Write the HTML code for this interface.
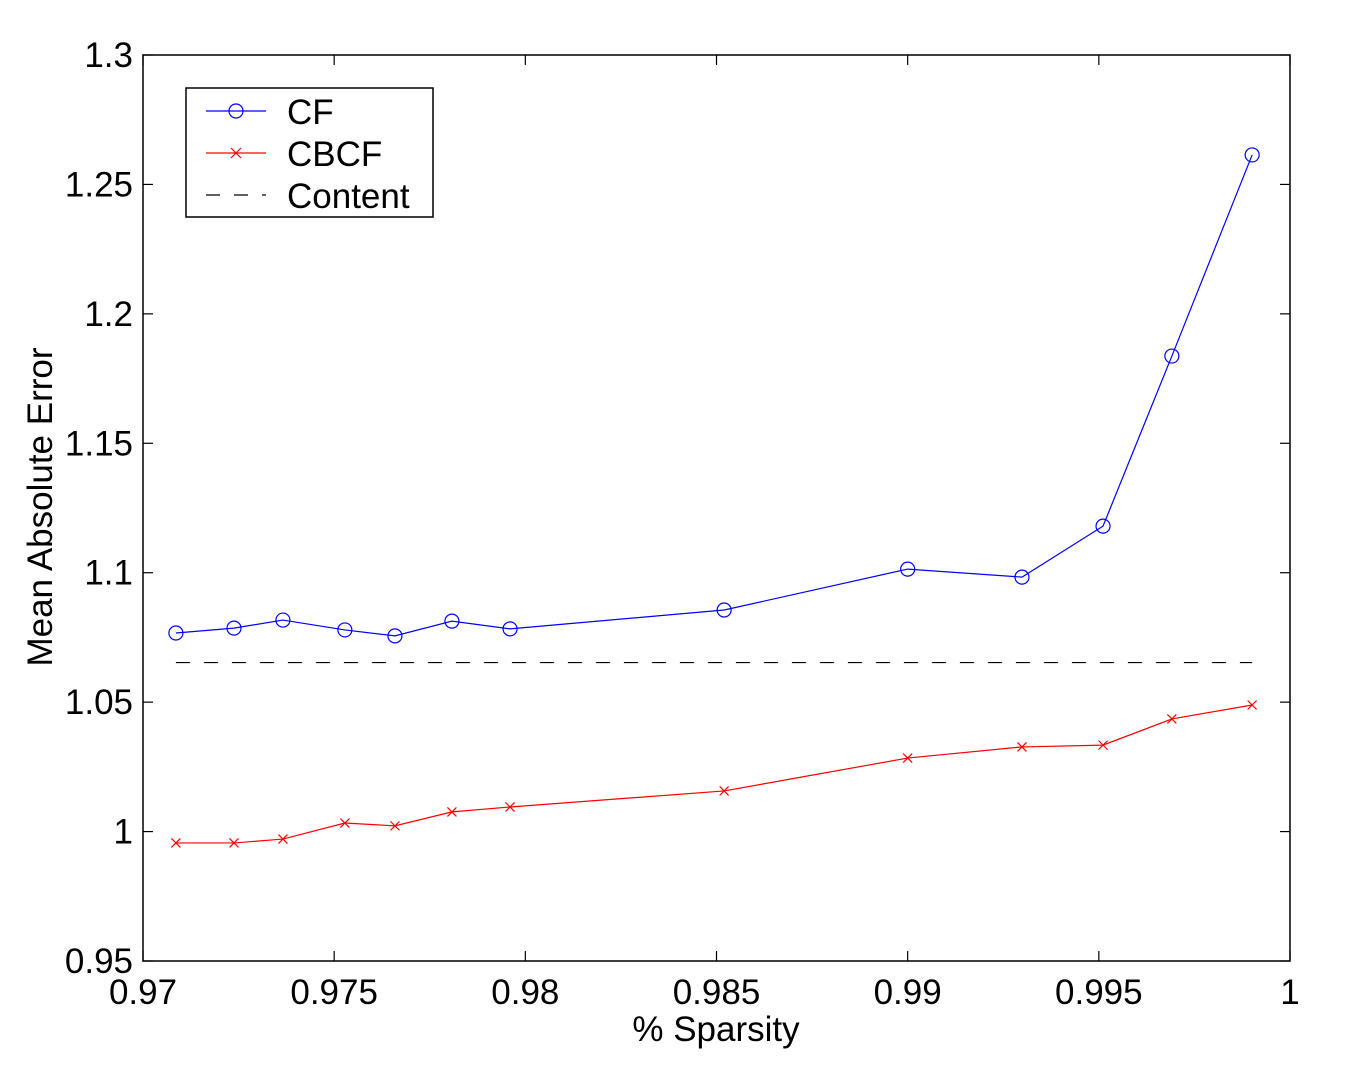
<!DOCTYPE html>
<html><head><meta charset="utf-8"><style>
html,body{margin:0;padding:0;background:#fff;}
svg{display:block;font-family:"Liberation Sans",sans-serif;}
</style></head><body>
<svg id="chart" width="1358" height="1074" xmlns="http://www.w3.org/2000/svg">
<rect x="143" y="55" width="1147" height="906" fill="#fff" stroke="#000" stroke-width="1.5"/>
<g id="ticks"></g>
<g id="series"></g>
<text x="716" y="1041" font-size="35" text-anchor="middle">% Sparsity</text>
<text transform="translate(52,507) rotate(-90)" font-size="35" text-anchor="middle">Mean Absolute Error</text>
<g>
<rect x="186" y="88" width="247" height="129" fill="#fff" stroke="#000" stroke-width="1.5"/>
<line x1="206" y1="111" x2="266" y2="111" stroke="#0000ff" stroke-width="1.2"/>
<circle cx="236" cy="111" r="7" fill="none" stroke="#0000ff" stroke-width="1.2"/>
<text x="287" y="124" font-size="35">CF</text>
<line x1="206" y1="153" x2="266" y2="153" stroke="#ff0000" stroke-width="1.2"/>
<path d="M231,148 L241,158 M241,148 L231,158" stroke="#ff0000" stroke-width="1.2"/>
<text x="287" y="166" font-size="35">CBCF</text>
<line x1="206" y1="195" x2="266" y2="195" stroke="#000" stroke-width="1.2" stroke-dasharray="14,14"/>
<text x="287" y="208" font-size="35">Content</text>
</g>
</svg>
<script>
const xs = [0.97086,0.97238,0.97366,0.97528,0.97659,0.97808,0.9796,0.9852,0.99,0.99299,0.99511,0.99691,0.99901];
const cf = [1.0767,1.0786,1.0817,1.0779,1.0756,1.0813,1.0783,1.0856,1.1014,1.0983,1.1180,1.1837,1.2614];
const cbcf = [0.9956,0.9956,0.9971,1.0033,1.0022,1.0076,1.0095,1.0157,1.0284,1.0327,1.0334,1.0435,1.0489];
const content = 1.0653;
const xTicks = [0.97,0.975,0.98,0.985,0.99,0.995,1];
const xTickLabels = ["0.97","0.975","0.98","0.985","0.99","0.995","1"];
const yTicks = [0.95,1,1.05,1.1,1.15,1.2,1.25,1.3];
const yTickLabels = ["0.95","1","1.05","1.1","1.15","1.2","1.25","1.3"];

const X0=143,X1=1290,Y0=961,Y1=55;
const sx=v=>X0+(v-0.97)/0.03*(X1-X0);
const sy=v=>Y0-(v-0.95)/0.35*(Y0-Y1);
const NS="http://www.w3.org/2000/svg";
function mk(t,a,p){const e=document.createElementNS(NS,t);for(const k in a)e.setAttribute(k,a[k]);p.appendChild(e);return e;}
const T=document.getElementById('ticks'),S=document.getElementById('series');
xTicks.forEach((v,i)=>{const x=sx(v);
 mk('line',{x1:x,y1:Y0,x2:x,y2:Y0-10,stroke:'#000','stroke-width':1.2},T);
 mk('line',{x1:x,y1:Y1,x2:x,y2:Y1+10,stroke:'#000','stroke-width':1.2},T);
 const t=mk('text',{x:x,y:1004,'font-size':35,'text-anchor':'middle'},T);t.textContent=xTickLabels[i];
 
 });
yTicks.forEach((v,i)=>{const y=sy(v);
 mk('line',{x1:X0,y1:y,x2:X0+10,y2:y,stroke:'#000','stroke-width':1.2},T);
 mk('line',{x1:X1,y1:y,x2:X1-10,y2:y,stroke:'#000','stroke-width':1.2},T);
 const t=mk('text',{x:133,y:y+12,'font-size':35,'text-anchor':'end'},T);t.textContent=yTickLabels[i];
 
 });
const cl=mk('line',{x1:sx(xs[0]),y1:sy(content),x2:sx(xs[xs.length-1]),y2:sy(content),stroke:'#000','stroke-width':1.2,'stroke-dasharray':'14,14'},S);


const p1=mk('polyline',{points:xs.map((x,i)=>sx(x)+','+sy(cf[i])).join(' '),fill:'none',stroke:'#0000ff','stroke-width':1.2},S);


const p2=mk('polyline',{points:xs.map((x,i)=>sx(x)+','+sy(cbcf[i])).join(' '),fill:'none',stroke:'#ff0000','stroke-width':1.2},S);


xs.forEach((x,i)=>{
 const c=mk('circle',{cx:sx(x),cy:sy(cf[i]),r:7,fill:'none',stroke:'#0000ff','stroke-width':1.2},S);
 
 
 const X=sx(x),Y=sy(cbcf[i]);
 const m=mk('path',{d:`M${X-4.5},${Y-4.5}L${X+4.5},${Y+4.5}M${X+4.5},${Y-4.5}L${X-4.5},${Y+4.5}`,stroke:'#ff0000','stroke-width':1.2},S);
 
 
});
</script>
</body></html>
